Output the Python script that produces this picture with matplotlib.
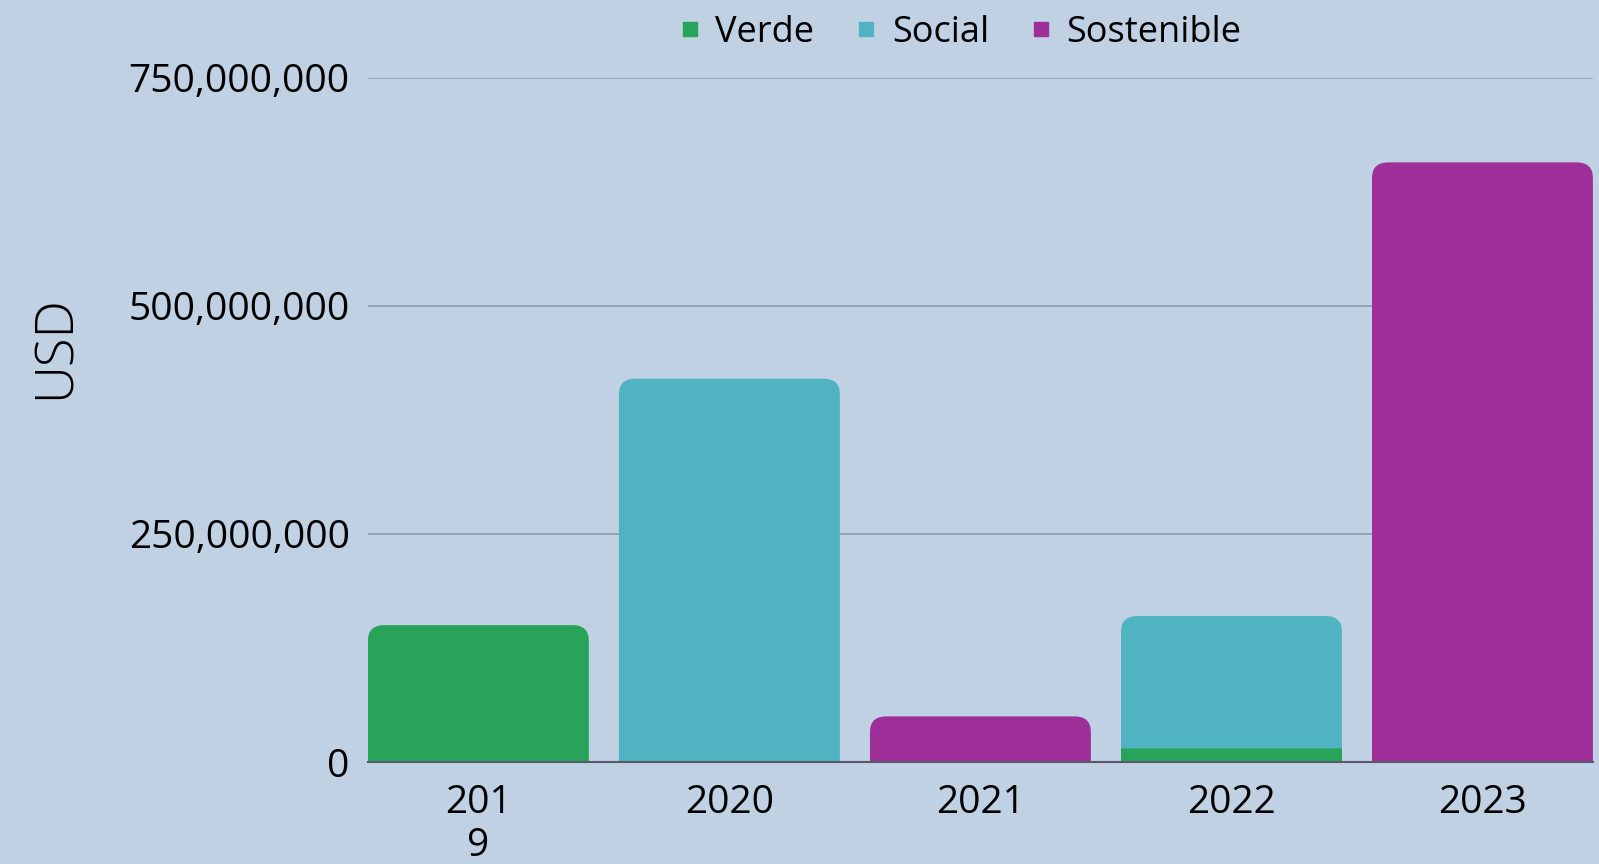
import matplotlib
matplotlib.use("Agg")
import matplotlib.pyplot as plt
from matplotlib.path import Path
from matplotlib.patches import PathPatch
from matplotlib.lines import Line2D
from matplotlib.ticker import FuncFormatter

years = ["201\n9", "2020", "2021", "2022", "2023"]
verde = [150e6, 0, 0, 15e6, 0]
social = [0, 420e6, 0, 145e6, 0]
sostenible = [0, 0, 50e6, 0, 657e6]
series_names = ["Verde", "Social", "Sostenible"]
colors = ["#28a35a", "#4fb3c1", "#9f2f98"]
yticks = [0, 250e6, 500e6, 750e6]

BG = "#c1d1e4"
plt.rcParams["font.family"] = ["Open Sans", "DejaVu Sans"]

fig = plt.figure(figsize=(15.99, 8.64), dpi=100, facecolor=BG)
ax = fig.add_axes([0.2301, 0.118, 0.7661, 0.7923])
ax.set_facecolor(BG)

x = list(range(len(years)))
width = 0.88
series = [verde, social, sostenible]
bottoms = [0.0] * len(years)
all_rects = []
for vals, col in zip(series, colors):
    rects = ax.bar(x, vals, width, bottom=bottoms, color=col, zorder=3)
    all_rects.append(rects)
    bottoms = [b + v for b, v in zip(bottoms, vals)]

ax.set_xlim(-0.44, 4.44)
ax.set_ylim(0, 750e6)

# round top corners of the topmost segment of each stack
rx, ry = 0.065, 17e6
for i in range(len(years)):
    top_idx = max(k for k in range(len(series)) if series[k][i] > 0)
    for k in range(len(series)):
        r = all_rects[k][i]
        if series[k][i] <= 0:
            r.set_visible(False)
            continue
        if k != top_idx:
            continue
        x0, y0, w, h = r.get_x(), r.get_y(), r.get_width(), r.get_height()
        ryy = min(ry, h)
        verts = [(x0, y0), (x0 + w, y0), (x0 + w, y0 + h - ryy),
                 (x0 + w, y0 + h), (x0 + w - rx, y0 + h),
                 (x0 + rx, y0 + h), (x0, y0 + h), (x0, y0 + h - ryy),
                 (x0, y0)]
        codes = [Path.MOVETO, Path.LINETO, Path.LINETO,
                 Path.CURVE3, Path.CURVE3, Path.LINETO,
                 Path.CURVE3, Path.CURVE3, Path.CLOSEPOLY]
        patch = PathPatch(Path(verts, codes), facecolor=r.get_facecolor(),
                          edgecolor="none", zorder=3)
        ax.add_patch(patch)
        r.set_visible(False)

ax.set_yticks(yticks)
ax.yaxis.set_major_formatter(FuncFormatter(lambda v, p: f"{v:,.0f}"))
ax.set_xticks(x)
ax.set_xticklabels(years)
ax.tick_params(axis="both", length=0, labelsize=28, colors="black")
ax.tick_params(axis="y", pad=13)
ax.tick_params(axis="x", pad=16)
for lab in ax.get_xticklabels():
    lab.set_linespacing(1.15)

ax.grid(axis="y", color="#8e9aab", linewidth=1.2, zorder=0)
ax.set_axisbelow(True)
for s in ["top", "right", "left"]:
    ax.spines[s].set_visible(False)
ax.spines["bottom"].set_color("#555a66")
ax.spines["bottom"].set_linewidth(1.5)
ax.spines["bottom"].set_zorder(4)

fig.text(0.035, 0.598, "USD", rotation=90, fontsize=38, fontweight="light",
         ha="center", va="center")

handles = [Line2D([], [], marker="s", linestyle="none", markersize=10,
                  markerfacecolor=c, markeredgecolor=c) for c in colors]
fig.legend(handles, series_names, loc="center", bbox_to_anchor=(0.6, 0.962),
           ncol=3, frameon=False, fontsize=26, handletextpad=0.35,
           columnspacing=1.1, handlelength=0.7)

fig.savefig("out.png", dpi=100, facecolor=BG)
